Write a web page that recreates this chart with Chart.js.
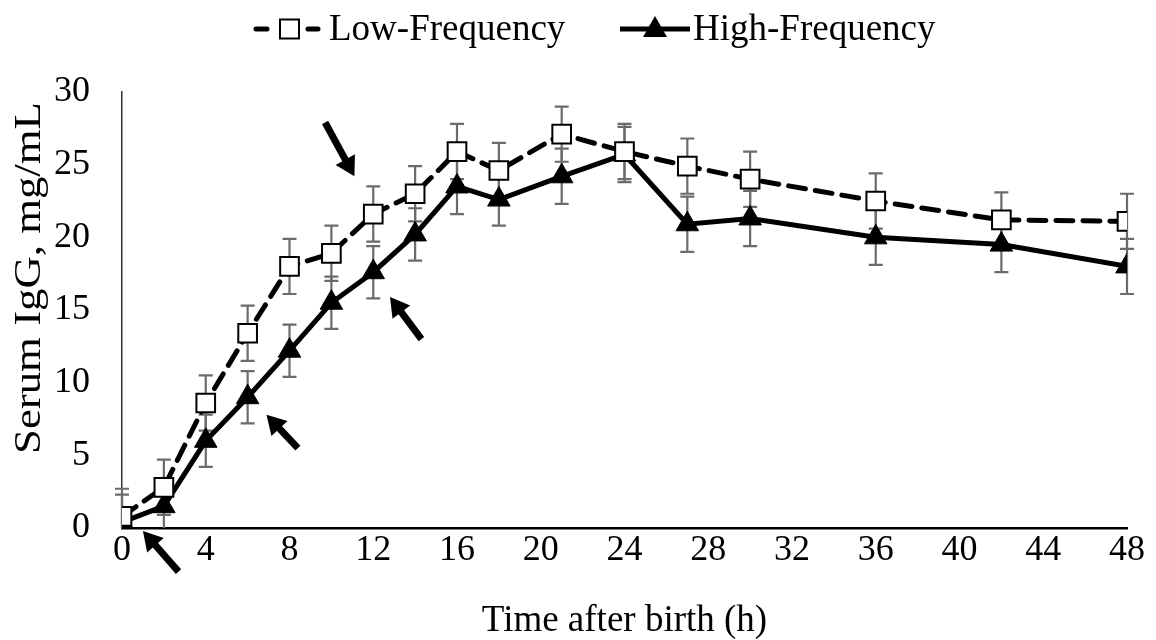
<!DOCTYPE html>
<html>
<head>
<meta charset="utf-8">
<script src="https://cdn.jsdelivr.net/npm/chart.js@4.4.1/dist/chart.umd.min.js"></script>
<style>
  html,body{margin:0;padding:0;background:#fff;}
  #wrap{width:1156px;height:640px;position:relative;}
</style>
</head>
<body>
<div id="wrap"><canvas id="chart"></canvas></div>
<script>
// ─── DATA ───────────────────────────────────────────────────────────
const hours   = [0, 2, 4, 6, 8, 10, 12, 14, 16, 18, 21, 24, 27, 30, 36, 42, 48];
const lowFreq = [0.8, 2.8, 8.6, 13.4, 18.0, 18.9, 21.6, 23.0, 25.9, 24.6, 27.1, 25.9, 24.9, 24.0, 22.5, 21.2, 21.1];
const lowErr  = [1.9, 1.9, 1.9, 1.9, 1.9, 1.9, 1.9, 1.9, 1.9, 1.9, 1.9, 1.9, 1.9, 1.9, 1.9, 1.9, 1.9];
const highFreq= [0.4, 1.5, 6.0, 9.0, 12.2, 15.5, 17.6, 20.2, 23.5, 22.6, 24.2, 25.7, 20.9, 21.3, 20.0, 19.5, 18.0];
const highErr = [1.9, 1.9, 1.8, 1.8, 1.8, 1.8, 1.8, 1.8, 1.9, 1.8, 1.9, 1.9, 1.9, 1.9, 1.9, 1.9, 1.9];
const xTicks  = [0, 4, 8, 12, 16, 20, 24, 28, 32, 36, 40, 44, 48];
const yTicks  = [0, 5, 10, 15, 20, 25, 30];
const seriesNames = ['Low-Frequency', 'High-Frequency'];
// arrows in data units: [tailX, tailY, headX, headY]
const arrows  = [[2.7, -3.0, 1.0, -0.2], [8.4, 5.5, 6.9, 7.8], [14.3, 13.0, 12.8, 15.9], [9.7, 27.9, 11.1, 24.2]];

const FONT='"Liberation Serif","Times New Roman",serif';
const pts=(ys)=>hours.map((h,i)=>({x:h,y:ys[i]}));

// ─── PLUGINS ────────────────────────────────────────────────────────
const errorBars={
  id:'errorBars',
  beforeDatasetsDraw(chart){
    const {ctx,scales:{x,y}}=chart;
    const sets=[[lowFreq,lowErr],[highFreq,highErr]];
    ctx.save();
    ctx.strokeStyle='#6b6b6b';ctx.lineWidth=2.2;
    sets.forEach(([vals,errs])=>{
      vals.forEach((v,i)=>{
        const px=x.getPixelForValue(hours[i]);
        const top=y.getPixelForValue(v+errs[i]), bot=y.getPixelForValue(Math.max(0,v-errs[i]));
        ctx.beginPath();
        ctx.moveTo(px,top);ctx.lineTo(px,bot);
        ctx.moveTo(px-7,top);ctx.lineTo(px+7,top);
        if(v-errs[i]>0){ctx.moveTo(px-7,bot);ctx.lineTo(px+7,bot);}
        ctx.stroke();
      });
    });
    ctx.restore();
  }
};

const extras={
  id:'extras',
  afterDraw(chart){
    const {ctx,scales:{x,y}}=chart;
    ctx.save();
    // arrows
    ctx.fillStyle='#000';ctx.strokeStyle='#000';ctx.lineWidth=7;ctx.lineCap='butt';
    arrows.forEach(([tx,ty,hx,hy])=>{
      const x1=x.getPixelForValue(tx),y1=y.getPixelForValue(ty);
      const x2=x.getPixelForValue(hx),y2=y.getPixelForValue(hy);
      const a=Math.atan2(y2-y1,x2-x1), hl=19, hw=11;
      const bx=x2-hl*Math.cos(a), by=y2-hl*Math.sin(a);
      ctx.beginPath();ctx.moveTo(x1,y1);ctx.lineTo(bx+2*Math.cos(a),by+2*Math.sin(a));ctx.stroke();
      ctx.beginPath();
      ctx.moveTo(x2,y2);
      ctx.lineTo(bx+hw*Math.sin(a),by-hw*Math.cos(a));
      ctx.lineTo(bx-hw*Math.sin(a),by+hw*Math.cos(a));
      ctx.closePath();ctx.fill();
    });

    // y axis title, stretched along its reading direction like the original
    ctx.save();
    ctx.translate(28,278);ctx.rotate(-Math.PI/2);ctx.scale(1.21,1);
    ctx.font='37px '+FONT;ctx.textAlign='center';ctx.textBaseline='middle';ctx.fillStyle='#000';
    ctx.fillText('Serum IgG, mg/mL',0,2);
    ctx.restore();

    // legend
    ctx.font='37px '+FONT;ctx.textBaseline='middle';ctx.textAlign='left';
    const ly=29;
    // item 1: dashed line + open square
    ctx.strokeStyle='#000';ctx.lineWidth=5;ctx.lineCap='round';ctx.setLineDash([11,15]);
    ctx.beginPath();ctx.moveTo(256,ly);ctx.lineTo(318,ly);ctx.stroke();
    ctx.setLineDash([]);ctx.lineCap='butt';
    ctx.fillStyle='#fff';ctx.fillRect(280,ly-9.5,19,19);
    ctx.lineWidth=2;ctx.strokeRect(280,ly-9.5,19,19);
    ctx.fillStyle='#000';ctx.fillText(seriesNames[0],329,ly+1);
    // item 2: solid line + filled triangle
    ctx.lineWidth=5;ctx.beginPath();ctx.moveTo(620,ly);ctx.lineTo(690,ly);ctx.stroke();
    ctx.beginPath();ctx.moveTo(655,ly-13);ctx.lineTo(667,ly+8);ctx.lineTo(643,ly+8);ctx.closePath();ctx.fill();
    ctx.fillText(seriesNames[1],693,ly+1);
    ctx.restore();
  }
};

// ─── CHART ──────────────────────────────────────────────────────────
new Chart(document.getElementById('chart'),{
  type:'line',
  data:{datasets:[
    {label:seriesNames[0],data:pts(lowFreq),borderColor:'#000',borderWidth:5,borderDash:[17,10],borderCapStyle:'round',
     pointStyle:'rect',pointRadius:13.2,pointBackgroundColor:'#fff',pointBorderColor:'#000',pointBorderWidth:2,tension:0},
    {label:seriesNames[1],data:pts(highFreq),borderColor:'#000',borderWidth:5,
     pointStyle:'triangle',pointRadius:13,pointBackgroundColor:'#000',pointBorderColor:'#000',pointBorderWidth:1,tension:0}
  ]},
  options:{
    responsive:true,maintainAspectRatio:false,animation:false,
    layout:{padding:{top:92,right:29,left:0,bottom:0}},
    plugins:{legend:{display:false},tooltip:{enabled:false}},
    scales:{
      x:{type:'linear',min:0,max:48,
        afterBuildTicks:s=>{s.ticks=xTicks.map(v=>({value:v}));},
        afterFit:s=>{s.height=112;},
        grid:{display:false,drawTicks:false},border:{display:true,color:'#000',width:2.5},
        ticks:{color:'#000',font:{family:FONT,size:36},padding:1,maxRotation:0},
        title:{display:true,text:'Time after birth (h)',color:'#000',font:{family:FONT,size:37,lineHeight:1},padding:{top:0,bottom:0}}},
      y:{min:0,max:30,
        afterBuildTicks:s=>{s.ticks=yTicks.map(v=>({value:v}));},
        afterFit:s=>{s.width=122;},
        grid:{display:false,drawTicks:false},border:{display:true,color:'#333',width:1.5},
        ticks:{color:'#000',font:{family:FONT,size:36},padding:32},
        title:{display:false}}
    }
  },
  plugins:[errorBars,extras]
});
</script>
</body>
</html>
